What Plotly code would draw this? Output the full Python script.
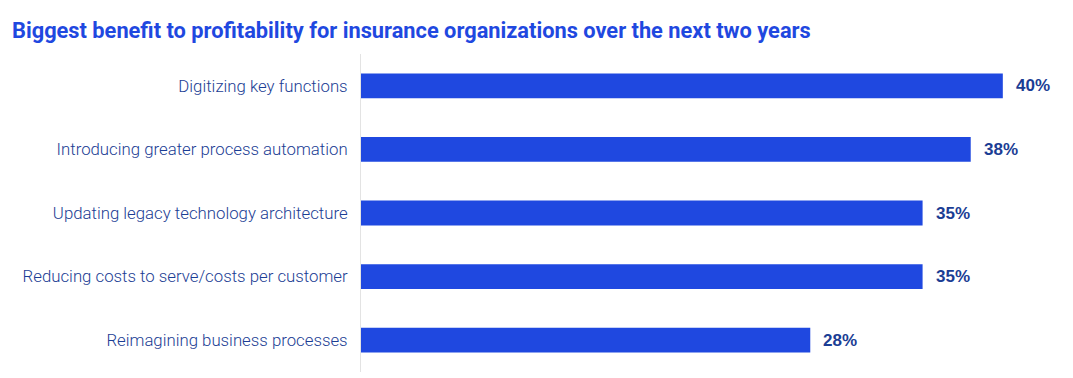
import plotly.graph_objects as go

categories = [
    "Digitizing key functions",
    "Introducing greater process automation",
    "Updating legacy technology architecture",
    "Reducing costs to serve/costs per customer",
    "Reimagining business processes",
]
values = [40, 38, 35, 35, 28]
value_labels = [f"{v}%" for v in values]

BAR = "#1f48e0"
NAVY = "#1b3d94"

fig = go.Figure(
    go.Bar(
        x=values,
        y=categories,
        orientation="h",
        marker=dict(color=BAR, line=dict(width=0)),
        width=0.39,
        hoverinfo="skip",
    )
)

for v, c, t in zip(values, categories, value_labels):
    fig.add_annotation(
        x=v, y=c, text=t, showarrow=False,
        xanchor="left", yanchor="middle", xshift=11,
        font=dict(family="Liberation Sans", size=17, color=NAVY, weight="bold"),
    )

fig.update_layout(
    width=1073,
    height=378,
    margin=dict(l=361, r=6, t=54, b=6),
    paper_bgcolor="white",
    plot_bgcolor="white",
    showlegend=False,
    title=dict(
        text="Biggest benefit to profitability for insurance organizations over the next two years",
        font=dict(family="Roboto", size=21.8, color="#1f48e0", weight="bold"),
        x=12 / 1073,
        xanchor="left",
        xref="container",
        y=1 - 30 / 378,
        yanchor="middle",
        yref="container",
    ),
)

fig.update_xaxes(
    range=[0, 44],
    showgrid=False,
    zeroline=False,
    showticklabels=False,
    showline=False,
    fixedrange=True,
)
fig.update_yaxes(
    categoryorder="array",
    categoryarray=categories[::-1],
    autorange=False,
    range=[-0.5, 4.5],
    showgrid=False,
    zeroline=False,
    showline=True,
    linecolor="#e3e3e3",
    linewidth=1,
    ticks="",
    ticklabelstandoff=9,
    tickfont=dict(family="Roboto", size=16.8, color=NAVY, weight=300),
    fixedrange=True,
)

fig.write_html("out.html")
